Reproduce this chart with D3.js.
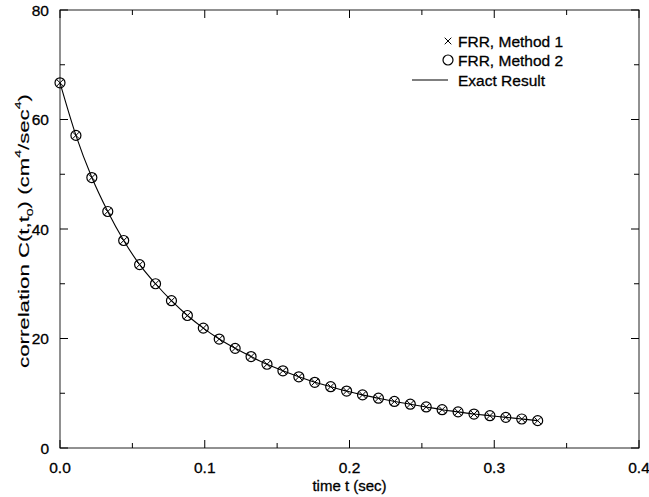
<!DOCTYPE html>
<html><head><meta charset="utf-8">
<script src="https://cdn.jsdelivr.net/npm/d3@7"></script>
<style>body{margin:0;background:#fff}text{font-family:"Liberation Sans",Arial,sans-serif;fill:#000;stroke:#000;stroke-width:0.3}</style>
</head><body><svg id="c" width="649" height="497"></svg>
<script>
const times = d3.range(31).map(i => +(i*0.011).toFixed(3));
const method1 = [66.7,57.1,49.4,43.2,37.9,33.5,30.0,26.9,24.2,21.9,19.9,18.2,16.7,15.3,14.1,13.0,12.0,11.2,10.4,9.7,9.1,8.5,8.0,7.5,7.0,6.6,6.2,5.9,5.6,5.3,5.0];
const method2 = [66.7,57.1,49.4,43.2,37.9,33.5,30.0,26.9,24.2,21.9,19.9,18.2,16.7,15.3,14.1,13.0,12.0,11.2,10.4,9.7,9.1,8.5,8.0,7.5,7.0,6.6,6.2,5.9,5.6,5.3,5.0];
const exact = [66.7,57.1,49.4,43.2,37.9,33.5,30.0,26.9,24.2,21.9,19.9,18.2,16.7,15.3,14.1,13.0,12.0,11.2,10.4,9.7,9.1,8.5,8.0,7.5,7.0,6.6,6.2,5.9,5.6,5.3,5.0];
const xTicks = [0,0.1,0.2,0.3,0.4];
const xTickLabels = ["0.0","0.1","0.2","0.3","0.4"];
const xMinor = [0.05,0.15,0.25,0.35];
const yTicks = [0,20,40,60,80];
const yMinor = [10,30,50,70];
const legendLabels = ["FRR, Method 1","FRR, Method 2","Exact Result"];

const svg = d3.select("#c");
const L=60,R=639,T=10,B=448;
const x = d3.scaleLinear().domain([0,0.4]).range([L,R]);
const y = d3.scaleLinear().domain([0,80]).range([B,T]);
const col="#000";

svg.append("rect").attr("x",L).attr("y",T).attr("width",R-L).attr("height",B-T)
  .attr("fill","none").attr("stroke","#222").attr("stroke-width",1);

const g = svg.append("g");
function tickLines(vals, len, axis){
  vals.forEach(v=>{
    if(axis==="x"){
      g.append("line").attr("x1",x(v)).attr("x2",x(v)).attr("y1",B).attr("y2",B-len).attr("stroke",col);
      g.append("line").attr("x1",x(v)).attr("x2",x(v)).attr("y1",T).attr("y2",T+len).attr("stroke",col);
    } else {
      g.append("line").attr("y1",y(v)).attr("y2",y(v)).attr("x1",L).attr("x2",L+len).attr("stroke",col);
      g.append("line").attr("y1",y(v)).attr("y2",y(v)).attr("x1",R).attr("x2",R-len).attr("stroke",col);
    }
  });
}
tickLines(xTicks,8,"x"); tickLines(xMinor,5,"x");
tickLines(yTicks,8,"y"); tickLines(yMinor,5,"y");

xTicks.forEach((v,i)=>{
  svg.append("text").attr("x",x(v)).attr("y",B+25).attr("text-anchor","middle")
    .attr("font-size",15.5).text(xTickLabels[i]);
});
yTicks.forEach(v=>{
  svg.append("text").attr("x",L-11).attr("y",y(v)+5.5).attr("text-anchor","end")
    .attr("font-size",15.5).text(v);
});

svg.append("text").attr("x",(L+R)/2).attr("y",491).attr("text-anchor","middle")
  .attr("font-size",15).text("time t (sec)");

const yt = svg.append("text").attr("transform","translate(29,231) rotate(-90) scale(1.48,1)")
  .attr("text-anchor","middle").attr("font-size",15).style("stroke-width",0.15);
yt.append("tspan").text("correlation C(t,t");
yt.append("tspan").attr("font-size",9.5).attr("dy",3.5).text("0");
yt.append("tspan").attr("dy",-3.5).text(") (cm");
yt.append("tspan").attr("font-size",9.5).attr("dy",-8).text("4");
yt.append("tspan").attr("dy",8).text("/sec");
yt.append("tspan").attr("font-size",9.5).attr("dy",-8).text("4");
yt.append("tspan").attr("dy",8).text(")");

const pts = times.map((t,i)=>({t,e:exact[i],m1:method1[i],m2:method2[i]}));
svg.append("path").datum(pts)
  .attr("d",d3.line().x(d=>x(d.t)).y(d=>y(d.e)).curve(d3.curveMonotoneX))
  .attr("fill","none").attr("stroke",col).attr("stroke-width",1.1);

svg.selectAll("circle.m2").data(pts).join("circle").attr("class","m2")
  .attr("cx",d=>x(d.t)).attr("cy",d=>y(d.m2)).attr("r",5)
  .attr("fill","none").attr("stroke",col).attr("stroke-width",1.2);

const s=3.3;
const xm = svg.selectAll("g.m1").data(pts).join("g").attr("class","m1")
  .attr("transform",d=>`translate(${x(d.t)},${y(d.m1)})`);
xm.append("path").attr("d",`M${-s},${-s}L${s},${s}M${-s},${s}L${s},${-s}`)
  .attr("stroke",col).attr("stroke-width",1);

// legend
const lg = svg.append("g");
const lx = 448, ly=[41,60,80];
lg.append("path").attr("d",`M${lx-s},${ly[0]-s}L${lx+s},${ly[0]+s}M${lx-s},${ly[0]+s}L${lx+s},${ly[0]-s}`).attr("stroke",col);
lg.append("circle").attr("cx",lx).attr("cy",ly[1]).attr("r",5).attr("fill","none").attr("stroke",col).attr("stroke-width",1.2);
lg.append("line").attr("x1",412).attr("x2",448).attr("y1",ly[2]).attr("y2",ly[2]).attr("stroke",col).attr("stroke-width",1.1);
legendLabels.forEach((t,i)=>{
  lg.append("text").attr("x",458).attr("y",ly[i]+5.5).attr("font-size",15.5).text(t);
});
</script></body></html>
